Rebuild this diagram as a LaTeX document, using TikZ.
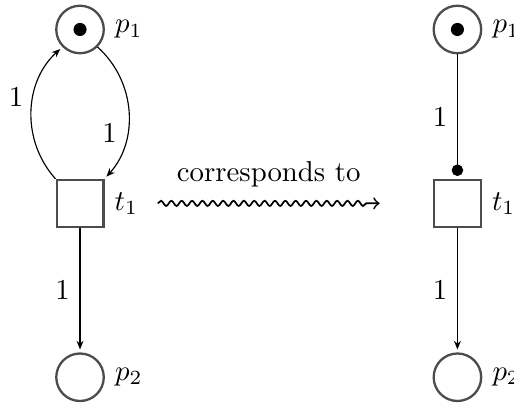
\documentclass[tikz,border=0pt]{standalone}
\usepackage{tikz}
\usetikzlibrary{arrows.meta, positioning, petri, decorations.pathmorphing}

\begin{document}
\begin{tikzpicture}[>={Stealth[length=3pt,width=2.4pt]}, node distance=1.52cm,
    place/.style={circle, draw=black!70, line width=0.8pt, minimum size=5.8mm, inner sep=0pt},
    trans/.style={rectangle, draw=black!70, line width=0.8pt, minimum size=5.7mm, inner sep=0pt},
    every token/.append style={minimum size=1.6mm},
    arc/.style={->, shorten >=1pt}]
  \useasboundingbox (-0.977,0.360) rectangle (5.299,-4.560);
  % net with a self-loop on p1
  \node[place, tokens=1, label=right:$p_1$] (p1) at (0,0) {};
  \node[trans, below=of p1, label=right:$t_1$] (t1) {};
  \node[place, below=of t1, label=right:$p_2$] (p2) {};
  \draw[arc] (t1) to[bend left=45] node[left, pos=0.6] {1} (p1);
  \draw[arc] (p1) to[bend left=45] node[left, pos=0.65] {1} (t1);
  \draw[arc] (t1) -- node[left] {1} (p2);
  % net with a read arc
  \node[place, tokens=1, right=4cm of p1, label=right:$p_1$] (p1r) {};
  \node[trans, below=of p1r, label=right:$t_1$] (t1r) {};
  \node[place, below=of t1r, label=right:$p_2$] (p2r) {};
  \draw[-{Circle[length=4pt]}, shorten >=1pt] (p1r) -- node[left] {1} (t1r);
  \draw[arc] (t1r) -- node[left] {1} (p2r);
  % squiggly arrow between them
  \coordinate[right=0.65cm of t1] (wstart);
  \coordinate[left=0.65cm of t1r] (wend);
  \draw[-to, semithick, decorate,
        decoration={snake, amplitude=0.9pt, segment length=3.6pt, post length=3pt}]
    (wstart) -- node[above=2pt] {corresponds to} (wend);
\end{tikzpicture}
\end{document}
